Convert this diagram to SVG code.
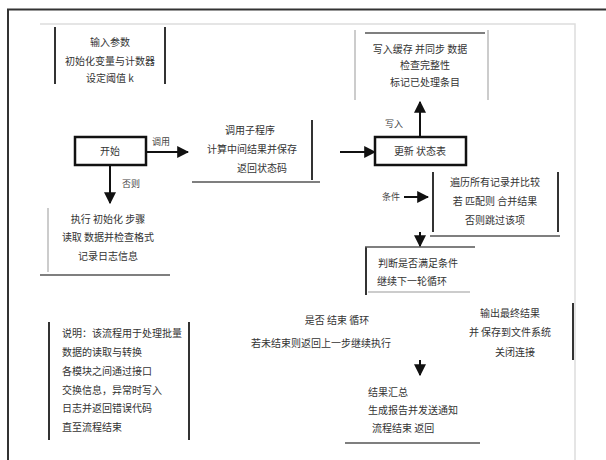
<svg xmlns="http://www.w3.org/2000/svg" width="606" height="460" viewBox="0 0 606 460">
<defs>
<marker id="ah" viewBox="0 0 10 10" refX="9" refY="5" markerWidth="6" markerHeight="6" orient="auto"><path d="M0,0 L10,5 L0,10 z" fill="#111"/></marker>
<style>
text{font-family:"Noto Sans CJK SC","Noto Sans",sans-serif;font-size:10px;fill:#333}
.lbl{font-size:9px;fill:#444}
.box{fill:#fff;stroke:#111;stroke-width:2.5}
.vd{stroke:#333;stroke-width:2}
.vl{stroke:#bbb;stroke-width:1.5}
.hl{stroke:#555;stroke-width:1.5}
.c{stroke:#111;stroke-width:2;fill:none}
</style>
</defs>
<rect x="0" y="0" width="606" height="460" fill="#fff"/>
<path d="M8,460 V9.5 H606" fill="none" stroke="#333" stroke-width="2"/>
<path d="M40,24 H575 V460" fill="none" stroke="#ddd" stroke-width="1.5"/>

<g id="note-top-left">
<line class="vd" x1="55" y1="27" x2="55" y2="84"/>
<line class="vd" x1="165" y1="27" x2="165" y2="84"/>
<text x="110" y="46" text-anchor="middle">输入参数</text>
<text x="110" y="65" text-anchor="middle">初始化变量与计数器</text>
<text x="110" y="82" text-anchor="middle">设定阈值 k</text>
</g>

<g id="n-start">
<rect class="box" x="75" y="137" width="71" height="28"/>
<text x="110" y="155" text-anchor="middle">开始</text>
</g>

<g id="note-left">
<line class="vl" x1="48" y1="208" x2="48" y2="272"/>
<line class="hl" x1="40" y1="275" x2="170" y2="275"/>
<text x="108" y="223" text-anchor="middle">执行 初始化 步骤</text>
<text x="108" y="241" text-anchor="middle">读取 数据并检查格式</text>
<text x="108" y="260" text-anchor="middle">记录日志信息</text>
</g>

<g id="n-mid">
<line class="vd" x1="312" y1="120" x2="312" y2="180"/>
<line class="hl" x1="192" y1="182" x2="320" y2="182"/>
<text x="250" y="134" text-anchor="middle">调用子程序</text>
<text x="252" y="153" text-anchor="middle">计算中间结果并保存</text>
<text x="262" y="172" text-anchor="middle">返回状态码</text>
</g>

<g id="n-proc">
<rect class="box" x="375" y="137" width="91" height="28"/>
<text x="420" y="155" text-anchor="middle">更新 状态表</text>
</g>

<g id="note-top-right">
<line class="vl" x1="355" y1="30" x2="355" y2="100"/>
<line class="vl" x1="488" y1="30" x2="488" y2="100"/>
<line class="hl" x1="365" y1="33" x2="485" y2="33"/>
<text x="420" y="53" text-anchor="middle">写入缓存 并同步 数据</text>
<text x="425" y="69" text-anchor="middle">检查完整性</text>
<text x="425" y="86" text-anchor="middle">标记已处理条目</text>
</g>

<g id="note-right">
<line class="vd" x1="433" y1="172" x2="433" y2="232"/>
<line class="vd" x1="558" y1="172" x2="558" y2="232"/>
<line class="hl" x1="430" y1="236" x2="560" y2="236"/>
<text x="495" y="186" text-anchor="middle">遍历所有记录并比较</text>
<text x="495" y="205" text-anchor="middle">若 匹配则 合并结果</text>
<text x="495" y="224" text-anchor="middle">否则跳过该项</text>
</g>

<g id="n-check">
<line class="vd" x1="366" y1="247" x2="366" y2="295"/>
<line class="hl" x1="365" y1="247" x2="475" y2="247"/>
<line class="vl" x1="368" y1="292" x2="470" y2="292"/>
<text x="418" y="267" text-anchor="middle">判断是否满足条件</text>
<text x="412" y="285" text-anchor="middle">继续下一轮循环</text>
</g>

<g id="note-center">
<text x="337" y="324" text-anchor="middle">是否 结束 循环</text>
<text x="321" y="347" text-anchor="middle">若未结束则返回上一步继续执行</text>
</g>

<g id="note-right-lower">
<line class="vd" x1="573" y1="303" x2="573" y2="360"/>
<text x="510" y="317" text-anchor="middle">输出最终结果</text>
<text x="510" y="336" text-anchor="middle">并 保存到文件系统</text>
<text x="515" y="356" text-anchor="middle">关闭连接</text>
</g>

<g id="note-bottom-left">
<line class="vd" x1="49" y1="322" x2="49" y2="440"/>
<line class="vd" x1="189" y1="322" x2="189" y2="440"/>
<text x="62" y="337">说明：该流程用于处理批量</text>
<text x="62" y="356">数据的读取与转换</text>
<text x="62" y="375">  各模块之间通过接口</text>
<text x="62" y="394">交换信息，异常时写入</text>
<text x="62" y="412">日志并返回错误代码</text>
<text x="62" y="431">直至流程结束</text>
</g>

<g id="n-end">
<line class="hl" x1="345" y1="443" x2="480" y2="443"/>
<text x="368" y="396">结果汇总</text>
<text x="368" y="414">生成报告并发送通知</text>
<text x="372" y="432">流程结束 返回</text>
</g>

<g id="connectors">
<line class="c" x1="110" y1="165" x2="110" y2="203" marker-end="url(#ah)"/>
<text class="lbl" x="122" y="187">否则</text>
<line class="c" x1="146" y1="152" x2="188" y2="152" marker-end="url(#ah)"/>
<text class="lbl" x="152" y="145">调用</text>
<line class="c" x1="340" y1="152" x2="375" y2="152" marker-end="url(#ah)"/>
<line class="c" x1="420" y1="137" x2="420" y2="102" marker-end="url(#ah)"/>
<text class="lbl" x="385" y="127">写入</text>
<text class="lbl" x="382" y="200">条件</text>
<line class="c" x1="404" y1="197" x2="428" y2="197" marker-end="url(#ah)"/>
<line class="c" x1="420" y1="232" x2="420" y2="246" marker-end="url(#ah)"/>
<line class="c" x1="420" y1="360" x2="420" y2="375" marker-end="url(#ah)"/>
</g>
</svg>
